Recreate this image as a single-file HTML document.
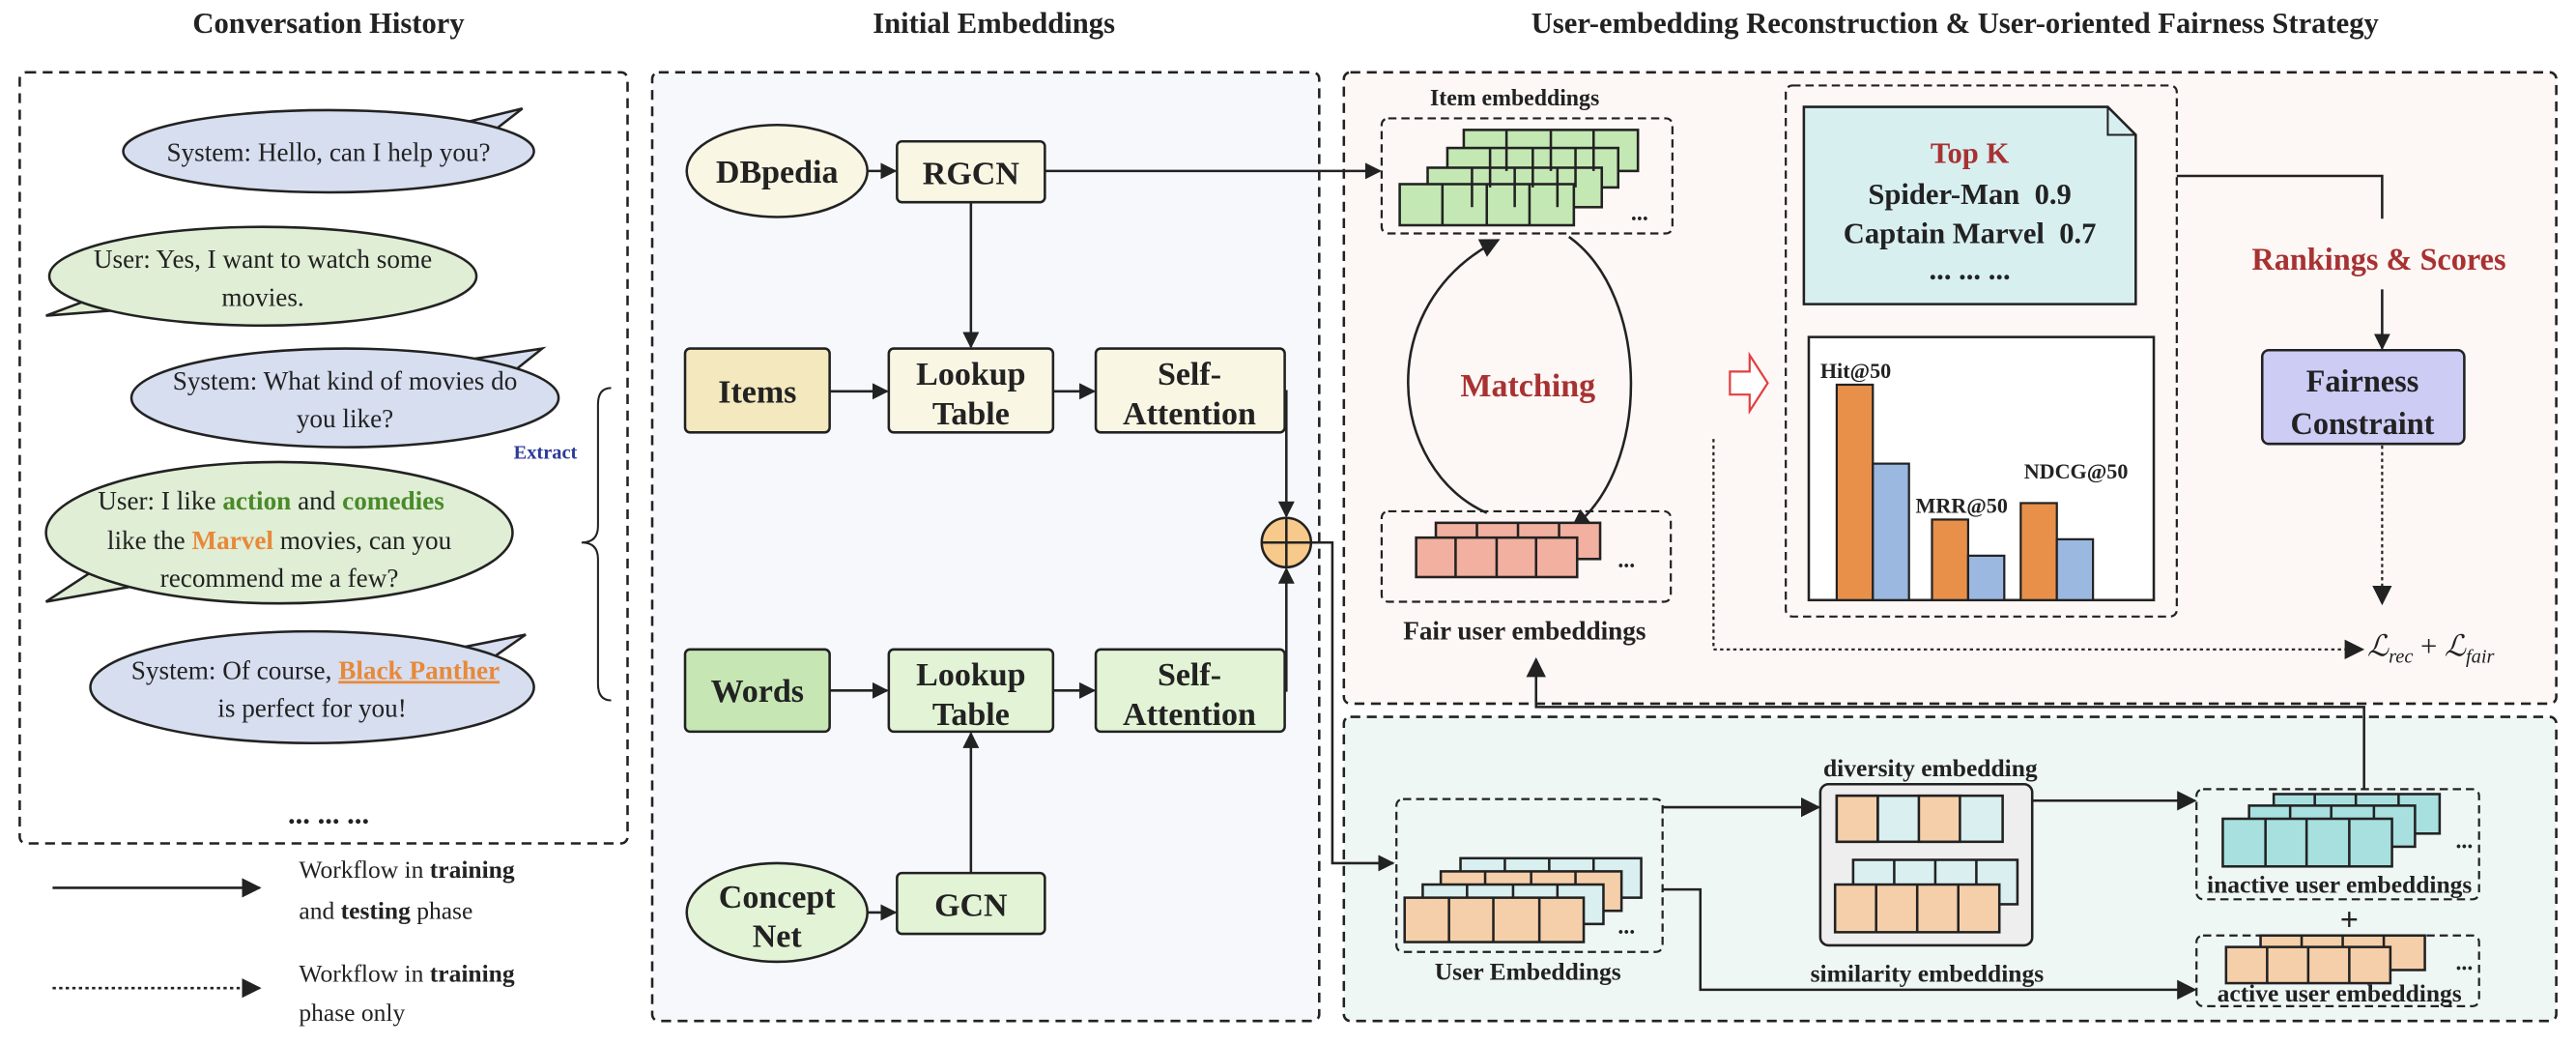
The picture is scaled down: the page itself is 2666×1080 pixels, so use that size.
<!DOCTYPE html>
<html><head><meta charset="utf-8"><style>html,body{margin:0;padding:0;background:#fff}svg{display:block}</style></head>
<body>
<svg width="2666" height="1080" viewBox="0 0 1568 635" preserveAspectRatio="none" xmlns="http://www.w3.org/2000/svg" font-family="Liberation Serif, serif">
<defs>
<marker id="a" viewBox="0 0 10 10" refX="9" refY="5" markerWidth="10" markerHeight="10" orient="auto-start-reverse" markerUnits="userSpaceOnUse"><path d="M0,0L10,5L0,10z" fill="#222"/></marker>
<marker id="b" viewBox="0 0 10 10" refX="9" refY="5" markerWidth="12" markerHeight="12" orient="auto" markerUnits="userSpaceOnUse"><path d="M0,0L10,5L0,10z" fill="#222"/></marker>
</defs>
<g font-weight="bold" font-size="18" fill="#222" text-anchor="middle">
<text x="200" y="20">Conversation History</text>
<text x="605" y="20">Initial Embeddings</text>
<text x="1190" y="20">User-embedding Reconstruction &amp; User-oriented Fairness Strategy</text>
</g>
<g fill="none" stroke="#222" stroke-width="1.5" stroke-dasharray="6,4">
<rect x="12" y="44" width="370" height="469" rx="4"/>
<rect x="397" y="44" width="406" height="577" rx="4" fill="#f7f8fc"/>
<rect x="818" y="44" width="738" height="384" rx="4" fill="#fdf7f5"/>
<rect x="818" y="436" width="738" height="185" rx="4" fill="#eff7f5"/>
</g>
<!-- bubbles -->
<g stroke="#222" stroke-width="1.5" font-size="16" text-anchor="middle" fill="#222">
<path d="M285,74 L318,66 L300,80 Z" fill="#d6def0"/>
<ellipse cx="200" cy="92" rx="125" ry="25" fill="#d6def0"/>
<path d="M60,180 L28,192 L80,188 Z" fill="#dfeed5"/>
<ellipse cx="160" cy="168" rx="130" ry="30" fill="#dfeed5"/>
<path d="M290,218 L330,212 L310,228 Z" fill="#d6def0"/>
<ellipse cx="210" cy="242" rx="130" ry="30" fill="#d6def0"/>
<path d="M60,345 L28,366 L90,355 Z" fill="#dfeed5"/>
<ellipse cx="170" cy="324" rx="142" ry="43" fill="#dfeed5"/>
<path d="M280,394 L320,386 L300,400 Z" fill="#d6def0"/>
<ellipse cx="190" cy="418" rx="135" ry="34" fill="#d6def0"/>
<g stroke="none">
<text x="200" y="98">System: Hello, can I help you?</text>
<text x="160" y="163">User: Yes, I want to watch some</text>
<text x="160" y="186">movies.</text>
<text x="210" y="237">System: What kind of movies do</text>
<text x="210" y="260">you like?</text>
<text x="165" y="310">User: I like <tspan fill="#4a8a2a" font-weight="bold">action</tspan> and <tspan fill="#4a8a2a" font-weight="bold">comedies</tspan></text>
<text x="170" y="334">like the <tspan fill="#e8893a" font-weight="bold">Marvel</tspan> movies, can you</text>
<text x="170" y="357">recommend me a few?</text>
<text x="192" y="413">System: Of course, <tspan fill="#e8893a" font-weight="bold" text-decoration="underline">Black Panther</tspan></text>
<text x="190" y="436">is perfect for you!</text>
<text x="200" y="501" font-weight="bold" font-size="18">... ... ...</text>
<text x="332" y="279" font-size="12" font-weight="bold" fill="#2b3a9a">Extract</text>
</g>
</g>
<path d="M372,236 Q364,236 364,246 L364,320 Q364,330 354,330 Q364,330 364,340 L364,416 Q364,426 372,426" fill="none" stroke="#222" stroke-width="1.2"/>
<!-- legend -->
<line x1="32" y1="540" x2="158" y2="540" stroke="#222" stroke-width="1.5" marker-end="url(#b)"/>
<line x1="32" y1="601" x2="158" y2="601" stroke="#222" stroke-width="1.5" stroke-dasharray="2,2" marker-end="url(#b)"/>
<g font-size="15" fill="#222">
<text x="182" y="534">Workflow in <tspan font-weight="bold">training</tspan></text>
<text x="182" y="559">and <tspan font-weight="bold">testing</tspan> phase</text>
<text x="182" y="597">Workflow in <tspan font-weight="bold">training</tspan></text>
<text x="182" y="621">phase only</text>
</g>
<!-- panel 2 -->
<g stroke="#222" stroke-width="1.5">
<ellipse cx="473" cy="104" rx="55" ry="28" fill="#faf6e4"/>
<rect x="546" y="86" width="90" height="37" rx="3" fill="#faf6e4"/>
<rect x="417" y="212" width="88" height="51" rx="3" fill="#f3e8be"/>
<rect x="541" y="212" width="100" height="51" rx="3" fill="#faf6e4"/>
<rect x="667" y="212" width="115" height="51" rx="3" fill="#faf6e4"/>
<rect x="417" y="395" width="88" height="50" rx="3" fill="#c6e6b4"/>
<rect x="541" y="395" width="100" height="50" rx="3" fill="#e3f3d6"/>
<rect x="667" y="395" width="115" height="50" rx="3" fill="#e3f3d6"/>
<ellipse cx="473" cy="555" rx="55" ry="30" fill="#e3f3d6"/>
<rect x="546" y="531" width="90" height="37" rx="3" fill="#e3f3d6"/>
<circle cx="783" cy="330" r="15" fill="#f7c98a"/>
<line x1="768" y1="330" x2="798" y2="330"/><line x1="783" y1="315" x2="783" y2="345"/>
</g>
<g font-weight="bold" font-size="20" fill="#222" text-anchor="middle">
<text x="473" y="111">DBpedia</text>
<text x="591" y="112">RGCN</text>
<text x="461" y="245">Items</text>
<text x="591" y="234">Lookup</text><text x="591" y="258">Table</text>
<text x="724" y="234">Self-</text><text x="724" y="258">Attention</text>
<text x="461" y="427">Words</text>
<text x="591" y="417">Lookup</text><text x="591" y="441">Table</text>
<text x="724" y="417">Self-</text><text x="724" y="441">Attention</text>
<text x="473" y="552">Concept</text><text x="473" y="576">Net</text>
<text x="591" y="557">GCN</text>
</g>
<g fill="none" stroke="#222" stroke-width="1.5" marker-end="url(#a)">
<line x1="528" y1="104" x2="545" y2="104"/>
<line x1="591" y1="123" x2="591" y2="211"/>
<line x1="505" y1="238" x2="540" y2="238"/>
<line x1="641" y1="238" x2="666" y2="238"/>
<line x1="528" y1="555" x2="545" y2="555"/>
<line x1="505" y1="420" x2="540" y2="420"/>
<line x1="641" y1="420" x2="666" y2="420"/>
<line x1="591" y1="531" x2="591" y2="446"/>
<polyline points="782,238 783,238 783,314"/>
<polyline points="782,420 783,420 783,346"/>
<polyline points="636,104 818,104 840,104"/>
<polyline points="798,330 811,330 811,525 848,525"/>
</g>
<!-- item embeddings -->
<text x="922" y="64" font-weight="bold" font-size="14" text-anchor="middle" fill="#222">Item embeddings</text>
<rect x="841" y="72" width="177" height="70" rx="4" fill="none" stroke="#222" stroke-width="1.3" stroke-dasharray="5,3"/>
<g stroke="#222" stroke-width="1.5" fill="#c4e8b4">
<rect x="891" y="79" width="106" height="25"/><rect x="881" y="90" width="104" height="24"/><rect x="869" y="102" width="106" height="24"/><rect x="852" y="112" width="106" height="25"/>
<path d="M917,79v25M944,79v25M970,79v25M907,90v24M933,90v24M959,90v24M896,102v24M922,102v24M948,102v24M878,112v25M905,112v25M931,112v25" fill="none"/>
</g>
<text x="998" y="134" font-weight="bold" font-size="14" text-anchor="middle" fill="#222">...</text>
<!-- matching -->
<path d="M905,312 C845,285 835,185 912,146" fill="none" stroke="#222" stroke-width="1.5" marker-end="url(#b)"/>
<path d="M955,144 C1005,180 1005,285 957,321" fill="none" stroke="#222" stroke-width="1.5" marker-end="url(#b)"/>
<text x="930" y="241" font-weight="bold" font-size="20" text-anchor="middle" fill="#a83232">Matching</text>
<rect x="841" y="311" width="176" height="55" rx="4" fill="none" stroke="#222" stroke-width="1.3" stroke-dasharray="5,3"/>
<g stroke="#222" stroke-width="1.5" fill="#f2b0a0">
<rect x="874" y="318" width="100" height="22"/><rect x="862" y="327" width="98" height="24"/>
<path d="M899,318v9M924,318v9M949,318v9M886,327v24M911,327v24M935,327v24" fill="none"/>
</g>
<text x="990" y="345" font-weight="bold" font-size="14" text-anchor="middle" fill="#222">...</text>
<text x="928" y="389" font-weight="bold" font-size="16" text-anchor="middle" fill="#222">Fair user embeddings</text>
<!-- hollow arrow -->
<path d="M1053,226 L1065,226 L1065,216 L1076,233 L1065,250 L1065,240 L1053,240 Z" fill="#fff" stroke="#e04040" stroke-width="1.3"/>
<!-- right box -->
<rect x="1087" y="52" width="238" height="323" rx="4" fill="none" stroke="#222" stroke-width="1.3" stroke-dasharray="5,3"/>
<path d="M1098,65 L1283,65 L1300,82 L1300,185 L1098,185 Z" fill="#d8eff0" stroke="#222" stroke-width="1.5"/>
<path d="M1283,65 L1283,82 L1300,82" fill="none" stroke="#222" stroke-width="1.2"/>
<g font-weight="bold" font-size="18" text-anchor="middle" fill="#222">
<text x="1199" y="99" fill="#a83232">Top K</text>
<text x="1199" y="124">Spider-Man&#160; 0.9</text>
<text x="1199" y="148">Captain Marvel&#160; 0.7</text>
<text x="1199" y="170">... ... ...</text>
</g>
<rect x="1101" y="205" width="210" height="160" fill="#fff" stroke="#222" stroke-width="1.5"/>
<g stroke="#222" stroke-width="1.3">
<rect x="1118" y="234" width="22" height="131" fill="#e8904a"/><rect x="1140" y="282" width="22" height="83" fill="#9ab8e0"/>
<rect x="1176" y="316" width="22" height="49" fill="#e8904a"/><rect x="1198" y="338" width="22" height="27" fill="#9ab8e0"/>
<rect x="1230" y="306" width="22" height="59" fill="#e8904a"/><rect x="1252" y="328" width="22" height="37" fill="#9ab8e0"/>
</g>
<g font-weight="bold" font-size="13" fill="#222">
<text x="1108" y="230">Hit@50</text><text x="1166" y="312">MRR@50</text><text x="1232" y="291">NDCG@50</text>
</g>
<polyline points="1325,107 1450,107 1450,133" fill="none" stroke="#222" stroke-width="1.5"/>
<text x="1448" y="164" font-weight="bold" font-size="19" text-anchor="middle" fill="#a83232">Rankings &amp; Scores</text>
<line x1="1450" y1="176" x2="1450" y2="212" stroke="#222" stroke-width="1.5" marker-end="url(#a)"/>
<rect x="1377" y="213" width="123" height="57" rx="4" fill="#ccccf5" stroke="#222" stroke-width="1.5"/>
<text x="1438" y="238" font-weight="bold" font-size="19" text-anchor="middle" fill="#222">Fairness</text>
<text x="1438" y="264" font-weight="bold" font-size="19" text-anchor="middle" fill="#222">Constraint</text>
<line x1="1450" y1="271" x2="1450" y2="367" stroke="#222" stroke-width="1.3" stroke-dasharray="2,2" marker-end="url(#b)"/>
<polyline points="1043,267 1043,395 1438,395" fill="none" stroke="#222" stroke-width="1.3" stroke-dasharray="2,2" marker-end="url(#b)"/>
<text x="1441" y="399" font-size="18" font-style="italic" fill="#222">ℒ<tspan font-size="12" dy="4">rec</tspan><tspan dy="-4" font-style="normal"> + </tspan>ℒ<tspan font-size="12" dy="4">fair</tspan></text>
<polyline points="1439,480 1439,430 935,430 935,401" fill="none" stroke="#222" stroke-width="1.5" marker-end="url(#b)"/>
<!-- bottom panel -->
<rect x="850" y="486" width="162" height="93" rx="4" fill="none" stroke="#222" stroke-width="1.3" stroke-dasharray="5,3"/>
<g stroke="#222" stroke-width="1.5">
<rect x="889" y="522" width="110" height="24" fill="#daf0f0"/><rect x="877" y="530" width="110" height="24" fill="#f5cfaa"/><rect x="866" y="538" width="110" height="24" fill="#daf0f0"/><rect x="855" y="546" width="109" height="27" fill="#f5cfaa"/>
<path d="M916,522v8M943,522v8M970,522v8M904,530v8M932,530v8M959,530v8M893,538v8M921,538v8M948,538v8M882,546v27M909,546v27M937,546v27" fill="none"/>
</g>
<text x="990" y="568" font-weight="bold" font-size="14" text-anchor="middle" fill="#222">...</text>
<text x="930" y="596" font-weight="bold" font-size="15" text-anchor="middle" fill="#222">User Embeddings</text>
<text x="1175" y="472" font-weight="bold" font-size="15" text-anchor="middle" fill="#222">diversity embedding</text>
<rect x="1108" y="477" width="129" height="98" rx="5" fill="#eeeeee" stroke="#222" stroke-width="1.5"/>
<g stroke="#222" stroke-width="1.5">
<rect x="1118" y="484" width="101" height="28" fill="#daf0f0"/><rect x="1118" y="484" width="25" height="28" fill="#f5cfaa"/><rect x="1168" y="484" width="25" height="28" fill="#f5cfaa"/>
<line x1="1143" y1="484" x2="1143" y2="512"/>
<rect x="1128" y="523" width="100" height="27" fill="#daf0f0"/>
<path d="M1153,523v27M1178,523v27M1203,523v27" fill="none"/>
<rect x="1117" y="538" width="100" height="29" fill="#f5cfaa"/>
<path d="M1142,538v29M1167,538v29M1192,538v29" fill="none"/>
</g>
<text x="1173" y="597" font-weight="bold" font-size="15" text-anchor="middle" fill="#222">similarity embeddings</text>
<rect x="1337" y="480" width="172" height="67" rx="4" fill="none" stroke="#222" stroke-width="1.3" stroke-dasharray="5,3"/>
<g stroke="#222" stroke-width="1.5">
<rect x="1384" y="483" width="101" height="24" fill="#a8e0e0"/><rect x="1369" y="490" width="101" height="25" fill="#a8e0e0"/><rect x="1353" y="498" width="103" height="29" fill="#a8e0e0"/>
<path d="M1409,483v7M1434,483v7M1460,483v7M1394,490v8M1419,490v8M1445,490v8M1379,498v29M1404,498v29M1430,498v29" fill="none"/>
</g>
<text x="1500" y="516" font-weight="bold" font-size="14" text-anchor="middle" fill="#222">...</text>
<text x="1424" y="543" font-weight="bold" font-size="15" text-anchor="middle" fill="#222">inactive user embeddings</text>
<text x="1430" y="566" font-weight="bold" font-size="20" text-anchor="middle" fill="#222">+</text>
<rect x="1337" y="569" width="172" height="43" rx="4" fill="none" stroke="#222" stroke-width="1.3" stroke-dasharray="5,3"/>
<g stroke="#222" stroke-width="1.5">
<rect x="1376" y="569" width="100" height="21" fill="#f5cfaa"/><rect x="1355" y="576" width="100" height="22" fill="#f5cfaa"/>
<path d="M1401,569v7M1426,569v7M1451,569v7M1380,576v22M1405,576v22M1430,576v22" fill="none"/>
</g>
<text x="1500" y="590" font-weight="bold" font-size="14" text-anchor="middle" fill="#222">...</text>
<text x="1424" y="609" font-weight="bold" font-size="15" text-anchor="middle" fill="#222">active user embeddings</text>
<g fill="none" stroke="#222" stroke-width="1.5" marker-end="url(#b)">
<polyline points="1012,491 1107,491"/>
<line x1="1237" y1="487" x2="1336" y2="487"/>
<polyline points="1012,541 1035,541 1035,602 1336,602"/>
</g>
</svg>
</body></html>
